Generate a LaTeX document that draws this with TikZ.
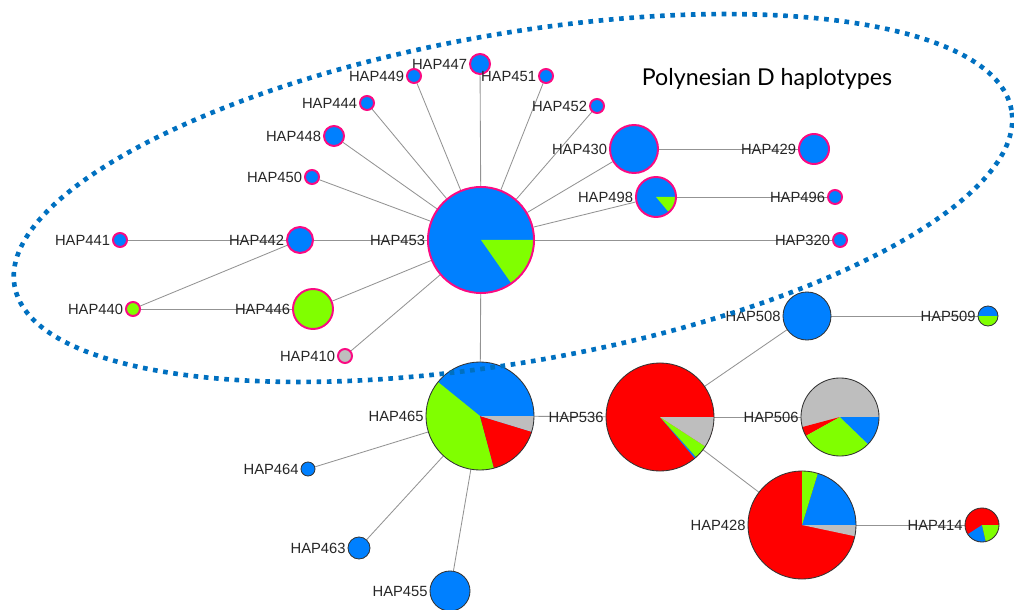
\documentclass[tikz,border=0pt]{standalone}
\usepackage{fontspec}
\setmainfont{Liberation Sans}
\newfontfamily\titlefont{Lato}
\usetikzlibrary{backgrounds}
\definecolor{hapblue}{RGB}{0,128,255}
\definecolor{hapgreen}{RGB}{128,255,0}
\definecolor{hapred}{RGB}{255,0,0}
\definecolor{hapgrey}{RGB}{190,190,190}
\definecolor{hapring}{RGB}{250,10,130}
\definecolor{ringblue}{RGB}{0,112,192}
% one pie slice, used inside a path picture
\newcommand{\hapslice}[3]{\fill[#3] (path picture bounding box.center) -- ++(#1:2cm)
  arc[start angle=#1, end angle=#2, radius=2cm] -- cycle;}

\begin{document}
\begin{tikzpicture}[x=0.025cm, y=-0.025cm]
    \tikzset{%
      hap/.style={circle, draw=hapring, line width=1.4pt, fill=hapblue,
        inner sep=0pt, minimum size=#1*0.05cm},
      hapk/.style={circle, draw=black!80, line width=0.6pt, fill=hapblue,
        inner sep=0pt, minimum size=#1*0.05cm},
      lab/.style={font=\fontsize{10.5}{12}\selectfont, text=black!85, inner sep=1.2pt},
      edge/.style={gray!85, line width=0.6pt},
    }
    \useasboundingbox (0,0) rectangle (1014,610);
    % Polynesian D group
    \node[hap=53, path picture={\hapslice{-55}{0}{hapgreen}},
      label={[lab]left:HAP453}] (HAP453) at (481,240) {};
    \node[hap=10, label={[lab]left:HAP447}] (HAP447) at (480,64) {};
    \node[hap=7, label={[lab]left:HAP449}] (HAP449) at (414,76) {};
    \node[hap=7, label={[lab]left:HAP451}] (HAP451) at (546,76) {};
    \node[hap=7, label={[lab]left:HAP444}] (HAP444) at (367,103) {};
    \node[hap=7, label={[lab]left:HAP452}] (HAP452) at (597,106) {};
    \node[hap=10, label={[lab]left:HAP448}] (HAP448) at (334,136) {};
    \node[hap=24, label={[lab]left:HAP430}] (HAP430) at (634,149) {};
    \node[hap=15, label={[lab]left:HAP429}] (HAP429) at (814,149) {};
    \node[hap=7, label={[lab]left:HAP450}] (HAP450) at (312,177) {};
    \node[hap=20, path picture={\hapslice{-50}{0}{hapgreen}},
      label={[lab]left:HAP498}] (HAP498) at (656,197) {};
    \node[hap=7, label={[lab]left:HAP496}] (HAP496) at (835,197) {};
    \node[hap=7, label={[lab]left:HAP441}] (HAP441) at (120,240) {};
    \node[hap=13, label={[lab]left:HAP442}] (HAP442) at (300,240) {};
    \node[hap=7, label={[lab]left:HAP320}] (HAP320) at (840,240) {};
    \node[hap=7, fill=hapgreen, label={[lab]left:HAP440}] (HAP440) at (133,309) {};
    \node[hap=20, fill=hapgreen, label={[lab]left:HAP446}] (HAP446) at (313,309) {};
    \node[hap=7, fill=hapgrey, label={[lab]left:HAP410}] (HAP410) at (345,356) {};

    % other haplotypes
    \node[hapk=54, path picture={\hapslice{141}{285}{hapgreen}
        \hapslice{285}{343}{hapred}\hapslice{343}{360}{hapgrey}},
      label={[lab]left:HAP465}] (HAP465) at (480,416) {};
    \node[hapk=54, fill=hapred, path picture={\hapslice{310}{312}{hapblue}
        \hapslice{312}{327}{hapgreen}\hapslice{327}{360}{hapgrey}},
      label={[lab]left:HAP536}] (HAP536) at (660,417) {};
    \node[hapk=39, fill=hapgrey, path picture={\hapslice{195}{209}{hapred}
        \hapslice{209}{316}{hapgreen}\hapslice{316}{360}{hapblue}},
      label={[lab]left:HAP506}] (HAP506) at (840,417) {};
    \node[hapk=54, fill=hapred, path picture={\hapslice{0}{73}{hapblue}
        \hapslice{73}{90}{hapgreen}\hapslice{348}{360}{hapgrey}},
      label={[lab]left:HAP428}] (HAP428) at (802,525) {};
    \node[hapk=17, fill=hapred, path picture={\hapslice{213}{283}{hapblue}
        \hapslice{283}{360}{hapgreen}},
      label={[lab]left:HAP414}] (HAP414) at (982,525) {};
    \node[hapk=24, label={[lab]left:HAP508}] (HAP508) at (807,316) {};
    \node[hapk=10, path picture={\hapslice{180}{360}{hapgreen}},
      label={[lab]left:HAP509}] (HAP509) at (988,316) {};
    \node[hapk=7, label={[lab]left:HAP464}] (HAP464) at (308,469) {};
    \node[hapk=11, label={[lab]left:HAP463}] (HAP463) at (359,548) {};
    \node[hapk=20, label={[lab]left:HAP455}] (HAP455) at (450,591) {};

    \begin{scope}[on background layer]
    \draw [edge] (HAP453) -- (HAP447);
    \draw [edge] (HAP453) -- (HAP449);
    \draw [edge] (HAP453) -- (HAP451);
    \draw [edge] (HAP453) -- (HAP444);
    \draw [edge] (HAP453) -- (HAP452);
    \draw [edge] (HAP453) -- (HAP448);
    \draw [edge] (HAP453) -- (HAP430);
    \draw [edge] (HAP453) -- (HAP450);
    \draw [edge] (HAP453) -- (HAP498);
    \draw [edge] (HAP453) -- (HAP442);
    \draw [edge] (HAP453) -- (HAP320);
    \draw [edge] (HAP453) -- (HAP446);
    \draw [edge] (HAP453) -- (HAP410);
    \draw [edge] (HAP453) -- (HAP465);
    \draw [edge] (HAP430) -- (HAP429);
    \draw [edge] (HAP498) -- (HAP496);
    \draw [edge] (HAP442) -- (HAP441);
    \draw [edge] (HAP442) -- (HAP440);
    \draw [edge] (HAP440) -- (HAP446);
    \draw [edge] (HAP465) -- (HAP536);
    \draw [edge] (HAP465) -- (HAP464);
    \draw [edge] (HAP465) -- (HAP463);
    \draw [edge] (HAP465) -- (HAP455);
    \draw [edge] (HAP536) -- (HAP508);
    \draw [edge] (HAP536) -- (HAP506);
    \draw [edge] (HAP536) -- (HAP428);
    \draw [edge] (HAP508) -- (HAP509);
    \draw [edge] (HAP428) -- (HAP414);
    \end{scope}

    % group outline
    \draw [ringblue, line width=3.3pt, dash pattern=on 3.3pt off 4pt,
      rotate around={10:(513,198)}] (513,198) ellipse [x radius=12.65cm, y radius=4.1cm];
    \node [font=\titlefont\fontsize{16.5}{19}\selectfont] (title) at (767,79) {Polynesian D haplotypes};
\end{tikzpicture}
\end{document}
